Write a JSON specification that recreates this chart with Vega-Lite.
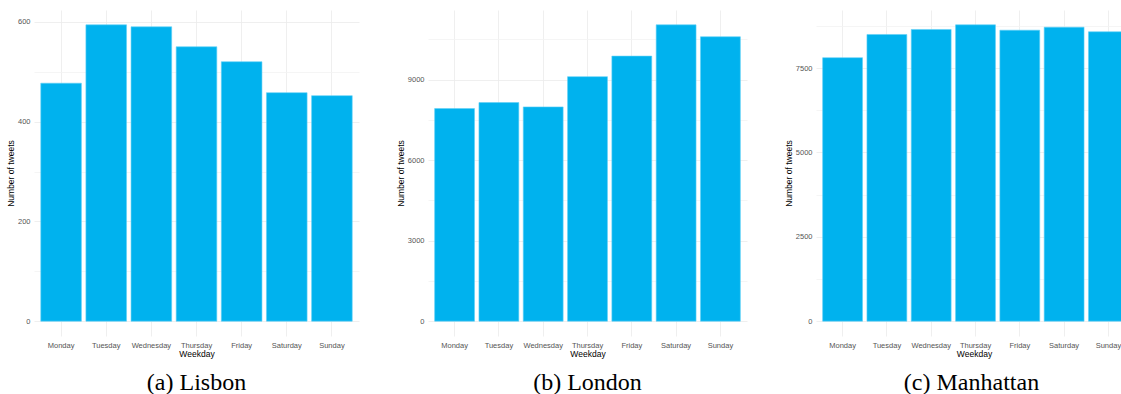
{
  "$schema": "https://vega.github.io/schema/vega-lite/v6.json",
  "padding": {"left": 6, "top": 10, "right": 0, "bottom": 0},
  "background": "white",
  "datasets": {
    "lisbon": [
      {"day": "Monday", "tweets": 477},
      {"day": "Tuesday", "tweets": 594},
      {"day": "Wednesday", "tweets": 590},
      {"day": "Thursday", "tweets": 550},
      {"day": "Friday", "tweets": 520},
      {"day": "Saturday", "tweets": 458},
      {"day": "Sunday", "tweets": 452}
    ],
    "london": [
      {"day": "Monday", "tweets": 7923},
      {"day": "Tuesday", "tweets": 8146},
      {"day": "Wednesday", "tweets": 7983},
      {"day": "Thursday", "tweets": 9111},
      {"day": "Friday", "tweets": 9876},
      {"day": "Saturday", "tweets": 11042},
      {"day": "Sunday", "tweets": 10597}
    ],
    "manhattan": [
      {"day": "Monday", "tweets": 7807},
      {"day": "Tuesday", "tweets": 8495},
      {"day": "Wednesday", "tweets": 8643},
      {"day": "Thursday", "tweets": 8781},
      {"day": "Friday", "tweets": 8622},
      {"day": "Saturday", "tweets": 8711},
      {"day": "Sunday", "tweets": 8575}
    ]
  },
  "spacing": 37,
  "hconcat": [
    {
      "width": 325,
      "height": 326,
      "data": {"name": "lisbon"},
      "title": {"text": "(a) Lisbon"},
      "mark": {"type": "bar", "color": "#00B2EE", "stroke": "#5FD0F7", "strokeWidth": 0.6},
      "encoding": {
        "x": {
          "field": "day", "type": "nominal", "sort": null, "title": "Weekday",
          "scale": {"paddingInner": 0.1, "paddingOuter": 0.15},
          "axis": {"labelAngle": 0, "bandPosition": 0.5, "grid": true}
        },
        "y": {
          "field": "tweets", "type": "quantitative", "title": "Number of tweets",
          "scale": {"domain": [-29.7, 623.7], "nice": false, "zero": false},
          "axis": {
            "values": [0, 100, 200, 300, 400, 500, 600],
            "labelExpr": "datum.value % 200 === 0 ? datum.label : ''",
            "gridColor": {"condition": {"test": "datum.value % 200 === 0", "value": "#EBEBEB"}, "value": "#F3F3F3"}
          }
        }
      }
    },
    {
      "width": 319,
      "height": 326,
      "data": {"name": "london"},
      "title": {"text": "(b) London"},
      "mark": {"type": "bar", "color": "#00B2EE", "stroke": "#5FD0F7", "strokeWidth": 0.6},
      "encoding": {
        "x": {
          "field": "day", "type": "nominal", "sort": null, "title": "Weekday",
          "scale": {"paddingInner": 0.1, "paddingOuter": 0.15},
          "axis": {"labelAngle": 0, "bandPosition": 0.5, "grid": true}
        },
        "y": {
          "field": "tweets", "type": "quantitative", "title": "Number of tweets",
          "scale": {"domain": [-552, 11594], "nice": false, "zero": false},
          "axis": {
            "values": [0, 1500, 3000, 4500, 6000, 7500, 9000, 10500],
            "labelExpr": "datum.value % 3000 === 0 ? datum.label : ''",
            "format": "d",
            "gridColor": {"condition": {"test": "datum.value % 3000 === 0", "value": "#EBEBEB"}, "value": "#F3F3F3"}
          }
        }
      }
    },
    {
      "width": 311,
      "height": 326,
      "data": {"name": "manhattan"},
      "title": {"text": "(c) Manhattan"},
      "mark": {"type": "bar", "color": "#00B2EE", "stroke": "#5FD0F7", "strokeWidth": 0.6, "clip": true},
      "encoding": {
        "x": {
          "field": "day", "type": "nominal", "sort": null, "title": "Weekday",
          "scale": {"paddingInner": 0.1, "paddingOuter": 0.15, "range": [0, 319]},
          "axis": {"labelAngle": 0, "bandPosition": 0.5, "grid": true, "titleX": 158}
        },
        "y": {
          "field": "tweets", "type": "quantitative", "title": "Number of tweets",
          "scale": {"domain": [-439, 9220], "nice": false, "zero": false},
          "axis": {
            "values": [0, 1250, 2500, 3750, 5000, 6250, 7500, 8750],
            "labelExpr": "datum.value % 2500 === 0 ? datum.label : ''",
            "format": "d",
            "gridColor": {"condition": {"test": "datum.value % 2500 === 0", "value": "#EBEBEB"}, "value": "#F3F3F3"}
          }
        }
      }
    }
  ],
  "config": {
    "view": {"stroke": null},
    "font": "Liberation Sans",
    "axis": {
      "domain": false,
      "ticks": false,
      "labelFont": "Liberation Sans",
      "labelFontSize": 7.5,
      "labelColor": "#555555",
      "labelPadding": 4,
      "titleFont": "Liberation Sans",
      "titleFontSize": 8.5,
      "titleFontWeight": "normal",
      "titleColor": "#000000",
      "titlePadding": 2,
      "gridColor": "#EBEBEB",
      "gridWidth": 0.8
    },
    "axisX": {"titlePadding": 1, "labelPadding": 5},
    "title": {
      "orient": "bottom",
      "anchor": "middle",
      "frame": "group",
      "font": "Liberation Serif",
      "fontSize": 24,
      "fontWeight": "normal",
      "color": "#000000",
      "offset": 13
    }
  }
}
